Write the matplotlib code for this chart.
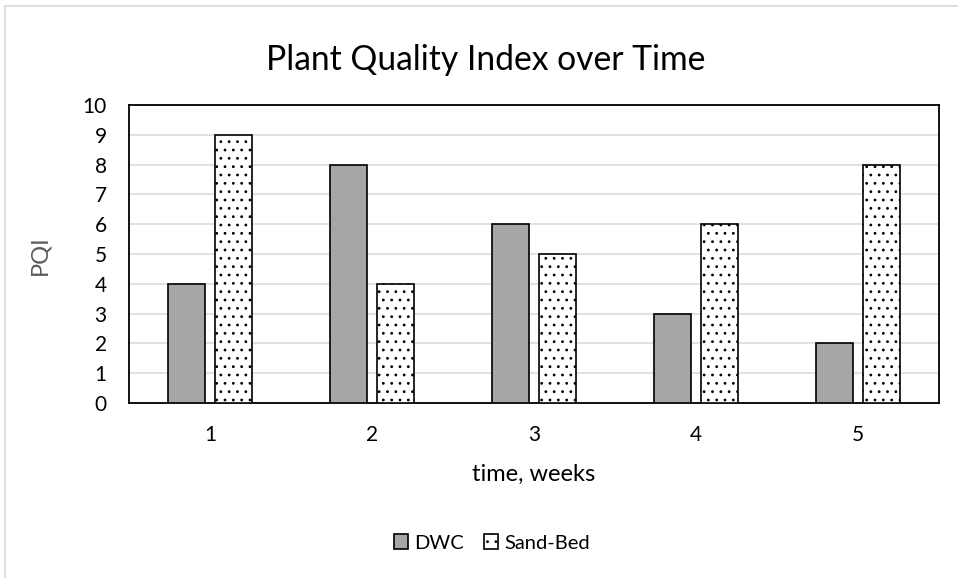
import matplotlib
matplotlib.use("Agg")
import matplotlib.pyplot as plt
import numpy as np
from matplotlib.patches import Patch
from matplotlib.lines import Line2D

weeks = [1, 2, 3, 4, 5]
dwc = [4, 8, 6, 3, 2]
sand_bed = [9, 4, 5, 6, 8]
series_names = ["DWC", "Sand-Bed"]

plt.rcParams['font.family'] = ['Lato', 'DejaVu Sans']
plt.rcParams['hatch.linewidth'] = 0.8
plt.rcParams['hatch.color'] = 'black'

W, H = 958, 578
fig = plt.figure(figsize=(W/100, H/100), dpi=100)
ax = fig.add_axes([129/W, 1-403/H, (939-129)/W, (403-105)/H])

x = np.array(weeks, dtype=float)
bw = 0.225
off = 0.145
ax.bar(x - off, dwc, width=bw, color='#a6a6a6', edgecolor='black', linewidth=1.2, zorder=3)
ax.bar(x + off, sand_bed, width=bw, color='white', edgecolor='black', linewidth=1.2, hatch='..', zorder=3)

ax.set_xlim(0.5, 5.5)
ax.set_ylim(0, 10)
ax.set_yticks(range(0, 11))
ax.set_xticks(weeks)
ax.set_xticklabels([str(w) for w in weeks])
ax.tick_params(axis='both', length=0, labelsize=15, colors='black')
ax.tick_params(axis='y', pad=16)
ax.tick_params(axis='x', pad=15.5)
ax.grid(axis='y', color='#d9d9d9', linewidth=1.1, zorder=0)
ax.set_axisbelow(True)
for s in ax.spines.values():
    s.set_color('black')
    s.set_linewidth(1.3)

fig.text(486/W, 1-60/H, "Plant Quality Index over Time", ha='center', va='center', fontsize=24.2, color='black')
fig.text(534/W, 1-474/H, "time, weeks", ha='center', va='center', fontsize=17, color='black')
fig.text(40/W, 1-255/H, "PQI", ha='center', va='center', rotation=90, fontsize=17, color='#595959')

handles = [Patch(facecolor='#a6a6a6', edgecolor='black', linewidth=1.2),
           Patch(facecolor='white', edgecolor='black', linewidth=1.2, hatch='..')]
fig.legend(handles, series_names, loc='center', bbox_to_anchor=(492/W, 1-543/H), ncol=2,
           frameon=False, fontsize=14.5, handlelength=0.7, handleheight=0.7,
           handletextpad=0.3, columnspacing=1.0)

fig.add_artist(Line2D([4.5/W, 4.5/W], [0, 1-5.5/H], color='#d9d9d9', linewidth=1.2, transform=fig.transFigure))
fig.add_artist(Line2D([4.5/W, 1], [1-5.5/H, 1-5.5/H], color='#d9d9d9', linewidth=1.2, transform=fig.transFigure))

fig.savefig("out.png", dpi=100)
